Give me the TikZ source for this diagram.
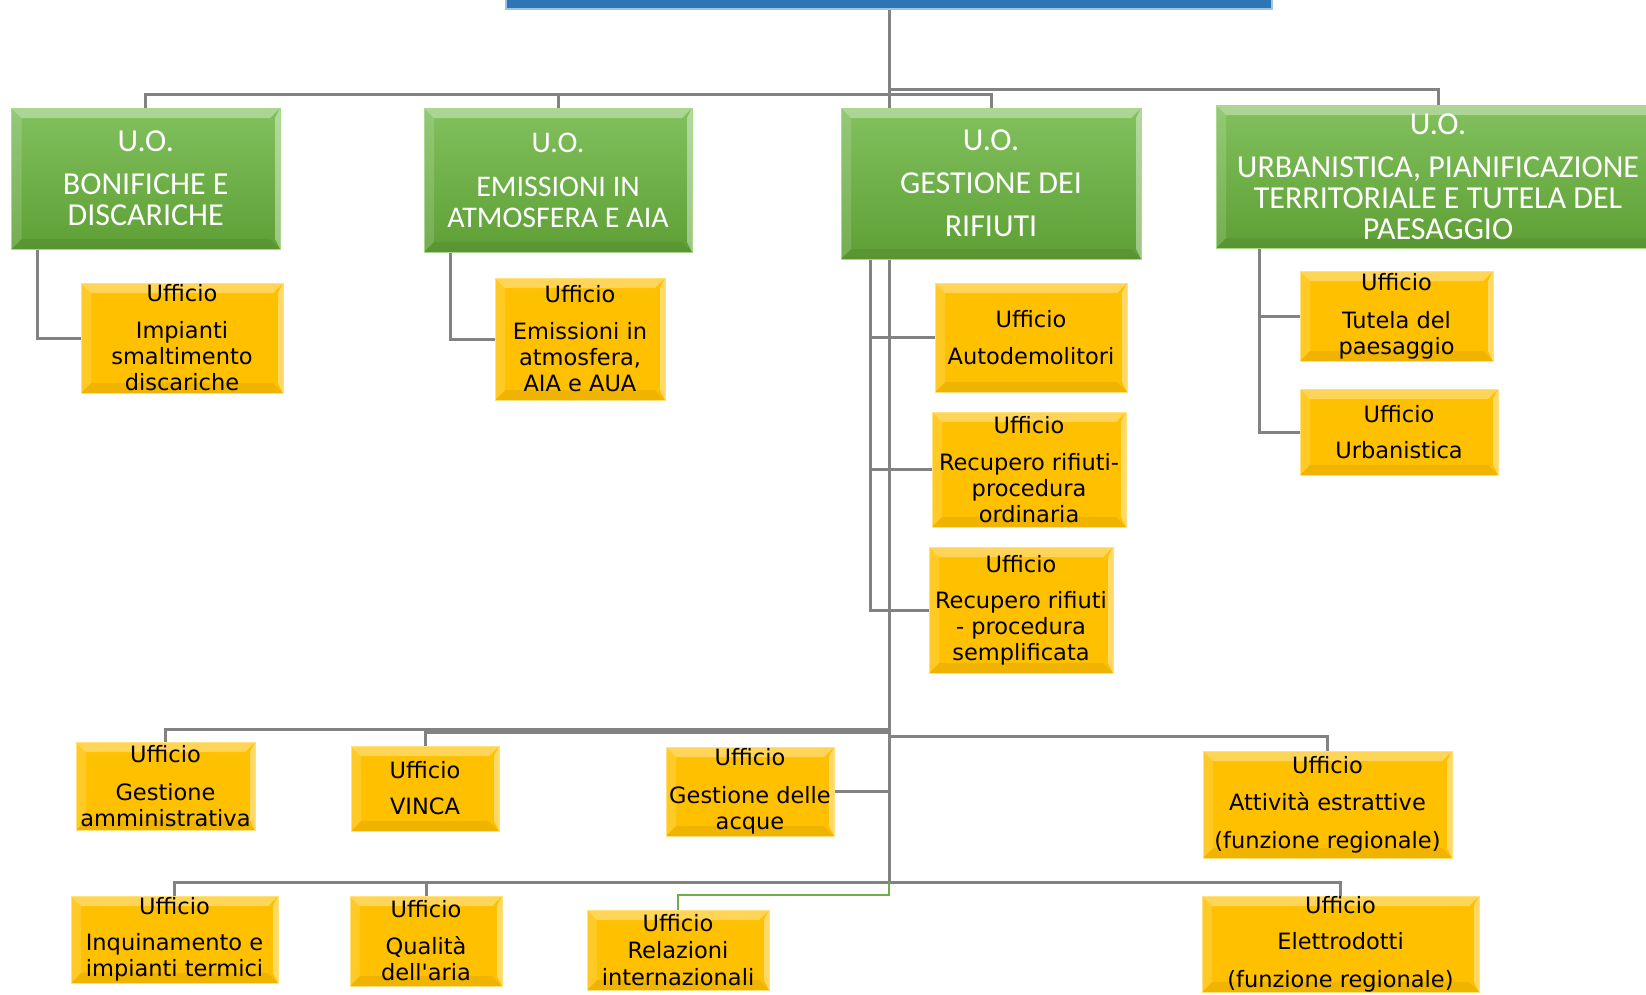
\documentclass[tikz,border=0pt]{standalone}
\usepackage{fontspec}
\setmainfont{DejaVu Sans}
\newfontfamily\ufont{DejaVu Sans}
\newfontfamily\gfont{Carlito}
\usetikzlibrary{backgrounds}
\definecolor{ufill}{HTML}{FFC000}
\definecolor{uedge}{HTML}{FFE27A}
\definecolor{gtop}{HTML}{82C15E}
\definecolor{gbot}{HTML}{5E9F35}
\definecolor{gedge}{HTML}{A9D98C}
\definecolor{barblue}{HTML}{2E75B6}
\definecolor{baredge}{HTML}{9DC3E6}
\definecolor{linegray}{HTML}{828282}
\definecolor{linegreen}{HTML}{70AD47}
\tikzset{
 box/.style={inner sep=0pt, align=center, rectangle},
 bevel/.style={path picture={
   \fill[white,opacity=0.35] (path picture bounding box.north west) -- (path picture bounding box.north east) -- ([shift={(-10pt,-10pt)}]path picture bounding box.north east) -- ([shift={(10pt,-10pt)}]path picture bounding box.north west) -- cycle;
   \fill[white,opacity=0.15] (path picture bounding box.north west) -- ([shift={(10pt,-10pt)}]path picture bounding box.north west) -- ([shift={(10pt,10pt)}]path picture bounding box.south west) -- (path picture bounding box.south west) -- cycle;
   \fill[black,opacity=0.06] (path picture bounding box.south west) -- ([shift={(10pt,10pt)}]path picture bounding box.south west) -- ([shift={(-10pt,10pt)}]path picture bounding box.south east) -- (path picture bounding box.south east) -- cycle;
   \fill[white,opacity=0.4] (path picture bounding box.north east) -- ([shift={(-5pt,-10pt)}]path picture bounding box.north east) -- ([shift={(-5pt,10pt)}]path picture bounding box.south east) -- (path picture bounding box.south east) -- cycle;
 }},
 ubox/.style={box, fill=ufill, draw=uedge, line width=1pt, bevel, font=\ufont\fontsize{22.5}{26}\selectfont},
 gbox/.style={box, top color=gtop, bottom color=gbot, draw=gedge, line width=1pt, bevel, text=white, font=\gfont\fontsize{32}{31}\selectfont},
 conn/.style={draw=linegray, line width=3pt},
 gconn/.style={draw=linegreen, line width=2.2pt},
}
\begin{document}
\begin{tikzpicture}[x=1pt,y=-1pt]
\useasboundingbox (0,0) rectangle (1646,994);
% top bar
\node[box, fill=barblue, draw=baredge, line width=1.5pt, minimum width=766pt, minimum height=34pt] (top) at (889,-8) {};
% U.O. boxes
\node[gbox, minimum width=268.5pt, minimum height=141pt] (b1) at (145.75,178.5) {U.O.\\[12pt]BONIFICHE E\\DISCARICHE};
\node[gbox, font=\gfont\fontsize{30}{31}\selectfont, minimum width=268pt, minimum height=144pt] (b2) at (558,180) {U.O.\\[13pt]EMISSIONI IN\\ATMOSFERA E AIA};
\node[gbox, minimum width=300pt, minimum height=151pt] (b3) at (991,183.5) {U.O.\\[12pt]GESTIONE DEI\\[12pt]RIFIUTI};
\node[gbox, minimum width=444pt, minimum height=143pt] (b4) at (1438,176.5) {U.O.\\[12pt]URBANISTICA, PIANIFICAZIONE\\TERRITORIALE E TUTELA DEL\\PAESAGGIO};
% Uffici under U.O.
\node[ubox, minimum width=202pt, minimum height=110pt] (y1) at (182,338) {Ufficio\\[11pt]Impianti\\smaltimento\\discariche};
\node[ubox, minimum width=170pt, minimum height=122pt] (y2) at (580,339) {Ufficio\\[11pt]Emissioni in\\atmosfera,\\AIA e AUA};
\node[ubox, minimum width=192pt, minimum height=109pt] (y3) at (1031,337.5) {Ufficio\\[11pt]Autodemolitori};
\node[ubox, minimum width=194pt, minimum height=115pt] (y4) at (1029,469.5) {Ufficio\\[11pt]Recupero rifiuti-\\procedura\\ordinaria};
\node[ubox, minimum width=184pt, minimum height=126pt] (y5) at (1021,610) {Ufficio\\[10pt]Recupero rifiuti\\- procedura\\semplificata};
\node[ubox, minimum width=193pt, minimum height=90pt] (y6) at (1396.5,316) {Ufficio\\[12pt]Tutela del\\paesaggio};
\node[ubox, minimum width=198pt, minimum height=86pt] (y7) at (1399,432) {Ufficio\\[10pt]Urbanistica};
% bottom Uffici
\node[ubox, minimum width=179pt, minimum height=88pt] (g1) at (165.5,786) {Ufficio\\[12pt]Gestione\\amministrativa};
\node[ubox, minimum width=148pt, minimum height=85pt] (g2) at (425,788.5) {Ufficio\\[10pt]VINCA};
\node[ubox, minimum width=168pt, minimum height=89pt] (g3) at (750,791.5) {Ufficio\\[12pt]Gestione delle\\acque};
\node[ubox, minimum width=249pt, minimum height=107pt] (g4) at (1327.5,804.5) {Ufficio\\[11pt]Attività estrattive\\[12pt](funzione regionale)};
\node[ubox, minimum width=207pt, minimum height=87pt] (h1) at (174.5,939.5) {Ufficio\\[10pt]Inquinamento e\\impianti termici};
\node[ubox, minimum width=152pt, minimum height=90pt] (h2) at (426,941) {Ufficio\\[11pt]Qualità\\dell'aria};
\node[ubox, minimum width=182pt, minimum height=80pt] (h3) at (678,950) {Ufficio\\[1pt]Relazioni\\[1pt]internazionali};
\node[ubox, minimum width=277pt, minimum height=96pt] (h4) at (1340.5,944) {Ufficio\\[10pt]Elettrodotti\\[12pt](funzione regionale)};
% junction coordinates
\coordinate (jT) at (889,94);
\coordinate (jT2) at (889,89);
\coordinate (jB1) at (889,729);
\coordinate (jB1b) at (889,732);
\coordinate (jB2) at (889,736);
\coordinate (jC) at (889,882);
\coordinate (jG) at (889,895);
\coordinate (v1) at ([xshift=26pt]b1.south west);
\coordinate (v2) at ([xshift=27pt]b2.south west);
\coordinate (v3) at ([xshift=30pt]b3.south west);
\coordinate (v4) at ([xshift=44pt]b4.south west);
\begin{pgfonlayer}{background}
\draw[conn] (top.south) -- (jC);
\draw[conn] (b1.north) |- (jT);
\draw[conn] (b2.north) |- (jT);
\draw[conn] (b3.north) |- (jT);
\draw[conn] (b4.north) |- (jT2);
\draw[conn] (v1) |- (y1.west);
\draw[conn] (v2) |- (y2.west);
\draw[conn] (v3) |- (y5.west);
\draw[conn] (y3.west) -- (y3.west -| v3);
\draw[conn] (y4.west) -- (y4.west -| v3);
\draw[conn] (v4) |- (y7.west);
\draw[conn] (y6.west) -- (y6.west -| v4);
\draw[conn] (g1.north) |- (jB1);
\draw[conn] (g2.north) |- (jB1b);
\draw[conn] (g3.east) -- (g3.east -| jB1);
\draw[conn] (g4.north) |- (jB2);
\draw[conn] (h1.north) |- (jC);
\draw[conn] (h2.north) |- (jC);
\draw[conn] (h4.north) |- (jC);
\draw[gconn] (h3.north) |- (jG) -- (jC);
\end{pgfonlayer}
\end{tikzpicture}
\end{document}
